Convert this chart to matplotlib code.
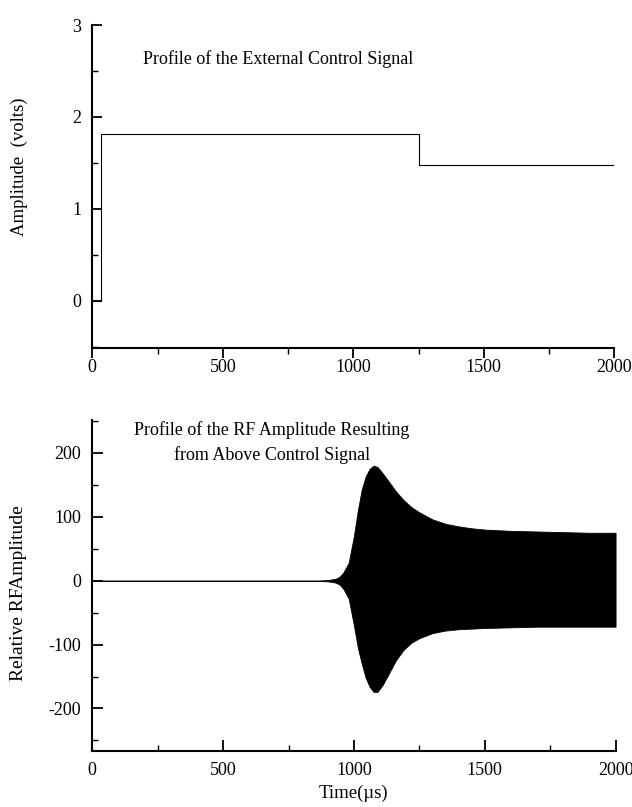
import numpy as np
import matplotlib
matplotlib.use("Agg")
import matplotlib.pyplot as plt
from matplotlib.ticker import MultipleLocator

plt.rcParams['font.family'] = ['Liberation Serif', 'DejaVu Serif']
plt.rcParams['axes.unicode_minus'] = False

# control signal (step profile)
ctrl_t = [0, 35, 35, 1250, 1250, 2000]
ctrl_v = [0, 0, 1.82, 1.82, 1.48, 1.48]

# RF amplitude envelope
rf_t = [0, 850, 900, 930, 945, 960, 980, 1000, 1015, 1030, 1045, 1060, 1075,
        1090, 1110, 1130, 1160, 1190, 1220, 1250, 1300, 1350, 1400, 1450,
        1500, 1600, 1700, 1800, 1900, 2000]
rf_upper = [0, 0, 1, 3, 6, 13, 28, 70, 110, 143, 163, 175, 180,
            178, 168, 157, 140, 126, 115, 107, 96, 89, 85, 82,
            80, 78, 77, 76, 75, 75]
rf_lower = [0, 0, -1, -3, -6, -13, -28, -70, -105, -130, -152, -166, -174,
            -174, -163, -148, -125, -108, -97, -90, -82, -78, -76, -75,
            -74, -73, -72, -72, -72, -72]

fig = plt.figure(figsize=(6.32, 8.07), dpi=100)

# top panel: external control signal
ax1 = fig.add_axes([0.146, 0.569, 0.826, 0.400])
ax1.plot(ctrl_t, ctrl_v, color='black', lw=0.8)
ax1.set_xlim(0, 2000)
ax1.set_ylim(-0.51, 3)
ax1.spines['top'].set_visible(False)
ax1.spines['right'].set_visible(False)
ax1.spines['left'].set_linewidth(1.5)
ax1.spines['bottom'].set_linewidth(1.5)
ax1.xaxis.set_major_locator(MultipleLocator(500))
ax1.xaxis.set_minor_locator(MultipleLocator(250))
ax1.yaxis.set_major_locator(MultipleLocator(1))
ax1.yaxis.set_minor_locator(MultipleLocator(0.5))
ax1.tick_params(axis='x', which='both', direction='out')
ax1.tick_params(axis='y', which='both', direction='in')
ax1.tick_params(which='major', length=7, width=1.3, labelsize=13)
ax1.tick_params(which='minor', length=4, width=1.0)
ax1.tick_params(axis='x', which='major', pad=1)
ax1.tick_params(axis='y', which='major', pad=8)
ax1.set_ylabel('Amplitude  (volts)', fontsize=13.5)
ax1.yaxis.set_label_coords(-0.124, 0.56)
ax1.text(0.098, 0.88, 'Profile of the External Control Signal',
         transform=ax1.transAxes, fontsize=13)

# bottom panel: resulting RF amplitude
ax2 = fig.add_axes([0.146, 0.069, 0.828, 0.411])
ax2.fill_between(rf_t, rf_lower, rf_upper, color='black', lw=0.6)
ax2.set_xlim(0, 2000)
ax2.set_ylim(-267, 252)
ax2.spines['top'].set_visible(False)
ax2.spines['right'].set_visible(False)
ax2.spines['left'].set_linewidth(1.5)
ax2.spines['bottom'].set_linewidth(1.5)
ax2.xaxis.set_major_locator(MultipleLocator(500))
ax2.xaxis.set_minor_locator(MultipleLocator(250))
ax2.yaxis.set_major_locator(MultipleLocator(100))
ax2.yaxis.set_minor_locator(MultipleLocator(50))
ax2.tick_params(which='both', direction='in')
ax2.tick_params(which='major', length=8, width=1.3, labelsize=13)
ax2.tick_params(which='minor', length=4, width=1.0)
ax2.tick_params(axis='x', which='major', pad=8)
ax2.tick_params(axis='y', which='major', pad=8)
ax2.set_ylabel('Relative RFAmplitude', fontsize=14)
ax2.yaxis.set_label_coords(-0.124, 0.477)
ax2.set_xlabel('Time(\u00b5s)', fontsize=13.5, labelpad=4)
ax2.text(0.343, 0.93, 'Profile of the RF Amplitude Resulting\nfrom Above Control Signal',
         transform=ax2.transAxes, fontsize=13, ha='center', va='center',
         linespacing=1.5)

fig.savefig('out.png', dpi=100)
